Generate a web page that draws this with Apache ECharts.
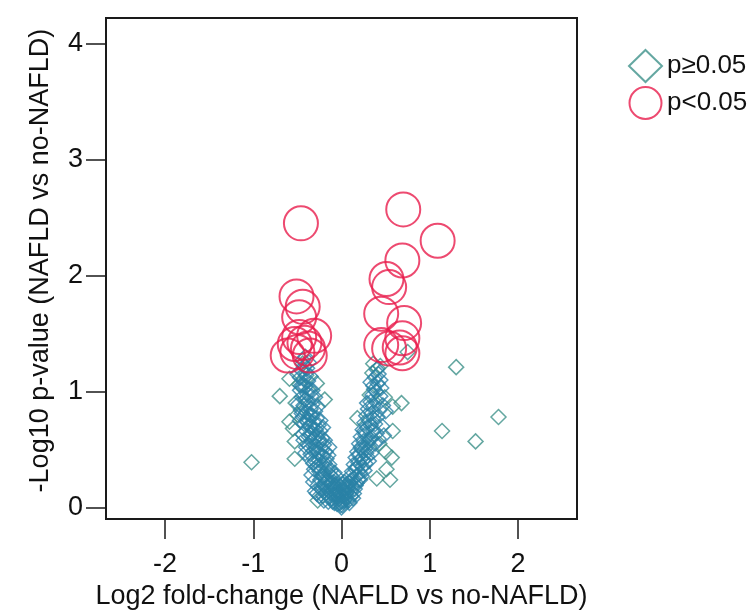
<!DOCTYPE html>
<html>
<head>
<meta charset="utf-8">
<script src="https://cdn.jsdelivr.net/npm/echarts@6/dist/echarts.min.js"></script>
<style>
  html, body { margin: 0; padding: 0; background: #fff; }
  #chart { width: 752px; height: 615px; }
</style>
</head>
<body>
<div id="chart"></div>
<script>
// Volcano plot: log2 fold-change vs -log10 p-value, NAFLD vs no-NAFLD

const xTicks = [-2, -1, 0, 1, 2];
const yTicks = [0, 1, 2, 3, 4];

// Non-significant features (p >= 0.05): dense core along the V
const coreNS = [
  [0.00,0.00],[-0.01,0.02],[0.01,0.02],[-0.02,0.04],[0.02,0.05],[-0.03,0.07],[0.03,0.06],
  [-0.04,0.09],[0.04,0.10],[-0.05,0.11],[0.05,0.12],[-0.06,0.14],[0.06,0.13],[-0.07,0.16],
  [0.07,0.17],[-0.08,0.19],[0.08,0.18],[-0.09,0.22],[0.09,0.21],[0.00,0.05],[0.00,0.10],
  [-0.02,0.13],[0.02,0.15],[-0.01,0.18],[0.01,0.20],[-0.04,0.20],[0.03,0.22],[-0.12,0.12],
  [-0.14,0.09],[0.11,0.10],[0.13,0.08],[-0.10,0.05],[0.09,0.04],[-0.16,0.18],[0.15,0.16],
  [-0.20,0.06],[-0.25,0.10],[-0.30,0.14],[-0.22,0.15],[-0.27,0.19],[-0.18,0.22],[-0.32,0.22],
  [-0.24,0.24],[-0.13,0.20],[-0.11,0.16],[0.17,0.21],[0.12,0.19],[0.19,0.24],
  [-0.15,0.24],[-0.19,0.20],[-0.23,0.18],[-0.28,0.12],[-0.17,0.13],[-0.21,0.10],[-0.15,0.05],
  [-0.11,0.08],[-0.07,0.10],[-0.05,0.03],[-0.08,0.04],[-0.03,0.12],[-0.06,0.18],[-0.10,0.21],
  [0.05,0.08],[0.08,0.06],[0.11,0.14],[0.14,0.12],[0.16,0.19],[0.10,0.23],[0.06,0.20],
  [0.04,0.17],[0.21,0.24],
  // left arm
  [-0.10,0.26],[-0.13,0.28],[-0.18,0.25],[-0.22,0.27],[-0.12,0.32],[-0.16,0.33],[-0.20,0.30],
  [-0.25,0.31],[-0.14,0.37],[-0.19,0.38],[-0.23,0.36],[-0.28,0.35],[-0.31,0.33],[-0.17,0.42],
  [-0.21,0.44],[-0.26,0.41],[-0.30,0.40],[-0.34,0.28],[-0.06,0.27],[-0.08,0.30],
  [-0.26,0.34],[-0.32,0.38],[-0.36,0.42],[-0.24,0.46],[-0.29,0.50],[-0.37,0.53],
  [-0.18,0.48],[-0.22,0.50],[-0.27,0.47],[-0.32,0.49],[-0.35,0.46],[-0.20,0.54],[-0.25,0.56],
  [-0.29,0.53],[-0.34,0.57],[-0.22,0.60],[-0.27,0.62],[-0.31,0.59],[-0.37,0.61],[-0.24,0.66],
  [-0.29,0.67],[-0.33,0.64],[-0.40,0.66],[-0.40,0.52],[-0.43,0.58],[-0.41,0.47],[-0.15,0.45],
  [-0.14,0.52],[-0.19,0.58],[-0.26,0.59],[-0.35,0.63],[-0.44,0.63],[-0.21,0.69],[-0.33,0.69],
  [-0.26,0.71],[-0.31,0.73],[-0.36,0.70],[-0.42,0.72],[-0.28,0.77],[-0.33,0.79],[-0.38,0.76],
  [-0.44,0.78],[-0.30,0.83],[-0.35,0.85],[-0.40,0.82],[-0.46,0.84],[-0.33,0.89],[-0.38,0.91],
  [-0.43,0.88],[-0.39,0.74],[-0.47,0.75],[-0.24,0.75],[-0.36,0.80],[-0.45,0.81],[-0.27,0.87],
  [-0.34,0.96],[-0.39,0.98],[-0.45,0.95],[-0.36,1.02],[-0.41,1.04],[-0.47,1.01],[-0.38,1.09],
  [-0.43,1.11],[-0.40,1.16],[-0.45,1.18],[-0.42,1.22],[-0.37,1.25],[-0.44,1.27],
  [-0.41,0.93],[-0.49,0.89],[-0.30,0.95],[-0.33,1.01],[-0.44,1.05],[-0.35,1.13],[-0.47,1.12],
  [-0.39,1.20],[-0.50,1.15],[-0.41,1.30],[-0.46,1.05],
  // right arm
  [0.10,0.27],[0.14,0.25],[0.18,0.28],[0.12,0.31],[0.16,0.33],[0.21,0.30],[0.24,0.35],
  [0.14,0.37],[0.19,0.39],[0.27,0.38],[0.16,0.43],[0.22,0.42],[0.29,0.44],
  [0.23,0.27],[0.26,0.32],[0.18,0.35],[0.25,0.41],[0.31,0.40],[0.20,0.45],[0.27,0.51],
  [0.34,0.47],[0.22,0.52],[0.32,0.59],[0.26,0.66],[0.33,0.71],[0.36,0.77],
  [0.18,0.48],[0.23,0.50],[0.28,0.47],[0.32,0.52],[0.20,0.55],[0.25,0.57],[0.30,0.56],
  [0.22,0.61],[0.27,0.63],[0.34,0.60],[0.24,0.67],[0.29,0.69],[0.36,0.66],[0.38,0.55],
  [0.42,0.59],[0.40,0.64],[0.46,0.70],[0.48,0.62],
  [0.26,0.73],[0.31,0.75],[0.38,0.72],[0.28,0.79],[0.34,0.81],[0.41,0.78],[0.30,0.85],
  [0.36,0.87],[0.43,0.84],[0.33,0.91],[0.47,0.88],[0.50,0.83],[0.29,0.90],[0.40,0.92],
  [0.35,0.97],[0.39,1.00],[0.36,1.05],[0.41,1.07],[0.38,1.12],[0.42,1.15],[0.40,1.19],
  [0.44,0.96],[0.37,1.02],[0.45,1.03],[0.33,1.08],[0.44,1.10]
];

// Non-significant features away from the core
const outerNS = [
  [-1.02,0.39],[-0.70,0.96],[-0.53,0.42],[-0.53,0.57],[-0.59,0.74],[-0.55,0.68],[-0.59,1.11],
  [-0.27,0.06],[-0.19,0.93],[-0.48,1.06],[-0.28,1.07],[-0.40,1.14],[-0.44,1.24],[-0.50,0.80],
  [-0.52,0.90],
  [1.30,1.21],[1.78,0.78],[1.14,0.66],[1.52,0.57],[0.68,0.90],[0.58,0.66],[0.57,0.43],
  [0.51,0.33],[0.18,0.77],[0.32,0.97],[0.49,0.95],[0.58,0.87],[0.35,1.16],[0.41,1.20],
  [0.40,0.25],[0.75,1.34],[0.55,0.24],[0.44,1.22],[0.36,1.24],[0.43,0.55],[0.50,0.48]
];

// Significant features (p < 0.05)
const sigPts = [
  [-0.46,2.45],[0.70,2.57],[1.09,2.30],[0.69,2.13],
  [0.51,1.97],[0.54,1.90],[0.45,1.67],[0.71,1.59],[0.69,1.46],[0.45,1.40],
  [0.54,1.37],[0.66,1.38],[0.69,1.33],
  [-0.51,1.82],[-0.44,1.73],[-0.48,1.64],[-0.31,1.48],[-0.48,1.47],[-0.42,1.42],
  [-0.53,1.41],[-0.38,1.37],[-0.61,1.31],[-0.36,1.31],[-0.50,1.34]
];

const nsLabel = 'p\u22650.05';
const sigLabel = 'p<0.05';

const teal = '#3d9189';
const tealBlue = '#2a82a6';
const red = '#e81d4c';
const font = 'Liberation Sans, Arial, sans-serif';

const chart = echarts.init(document.getElementById('chart'), null, { renderer: 'canvas' });

chart.setOption({
  backgroundColor: '#fff',
  animation: false,
  grid: {
    left: 106, top: 18, right: 175, bottom: 89,
    show: true, borderColor: '#1a1a1a', borderWidth: 2, backgroundColor: 'transparent'
  },
  legend: {
    orient: 'vertical',
    left: 623, top: 44,
    itemWidth: 33, itemHeight: 32, itemGap: 3,
    textStyle: { fontSize: 26, fontFamily: font, color: '#111' },
    data: [
      { name: nsLabel, icon: 'diamond',
        itemStyle: { color: 'rgba(0,0,0,0)', borderColor: teal, borderWidth: 2 } },
      { name: sigLabel, icon: 'circle',
        itemStyle: { color: 'rgba(0,0,0,0)', borderColor: red, borderWidth: 2 } }
    ]
  },
  xAxis: {
    type: 'value', min: -2.67, max: 2.67,
    name: 'Log2 fold-change (NAFLD vs no-NAFLD)',
    nameLocation: 'middle', nameGap: 60,
    nameTextStyle: { fontSize: 27, fontFamily: font, color: '#111' },
    axisLine: { show: true, onZero: false, lineStyle: { color: '#1a1a1a', width: 2 } },
    axisTick: { show: true, length: 20, customValues: xTicks, lineStyle: { color: '#1a1a1a', width: 1.5 } },
    axisLabel: { customValues: xTicks, margin: 32, fontSize: 27, fontFamily: font, color: '#111' },
    splitLine: { show: false }
  },
  yAxis: {
    type: 'value', min: -0.1, max: 4.22,
    name: '-Log10 p-value (NAFLD vs no-NAFLD)',
    nameLocation: 'middle', nameGap: 52,
    nameTextStyle: { fontSize: 27, fontFamily: font, color: '#111', padding: [0, 0, 0, 16] },
    axisLine: { show: true, onZero: false, lineStyle: { color: '#1a1a1a', width: 2 } },
    axisTick: { show: true, length: 20, customValues: yTicks, lineStyle: { color: '#1a1a1a', width: 1.5 } },
    axisLabel: { customValues: yTicks, margin: 23, fontSize: 27, fontFamily: font, color: '#111' },
    splitLine: { show: false }
  },
  series: [
    {
      name: nsLabel, type: 'scatter', symbol: 'diamond', symbolSize: 15,
      data: outerNS,
      itemStyle: { color: 'rgba(0,0,0,0)', borderColor: teal, borderWidth: 1.5 }
    },
    {
      name: nsLabel, type: 'scatter', symbol: 'diamond', symbolSize: 15,
      data: coreNS,
      itemStyle: { color: 'rgba(0,0,0,0)', borderColor: tealBlue, borderWidth: 1.5 }
    },
    {
      name: sigLabel, type: 'scatter', symbol: 'circle', symbolSize: 34,
      data: sigPts,
      itemStyle: { color: 'rgba(0,0,0,0)', borderColor: red, borderWidth: 2 }
    }
  ]
});
</script>
</body>
</html>
